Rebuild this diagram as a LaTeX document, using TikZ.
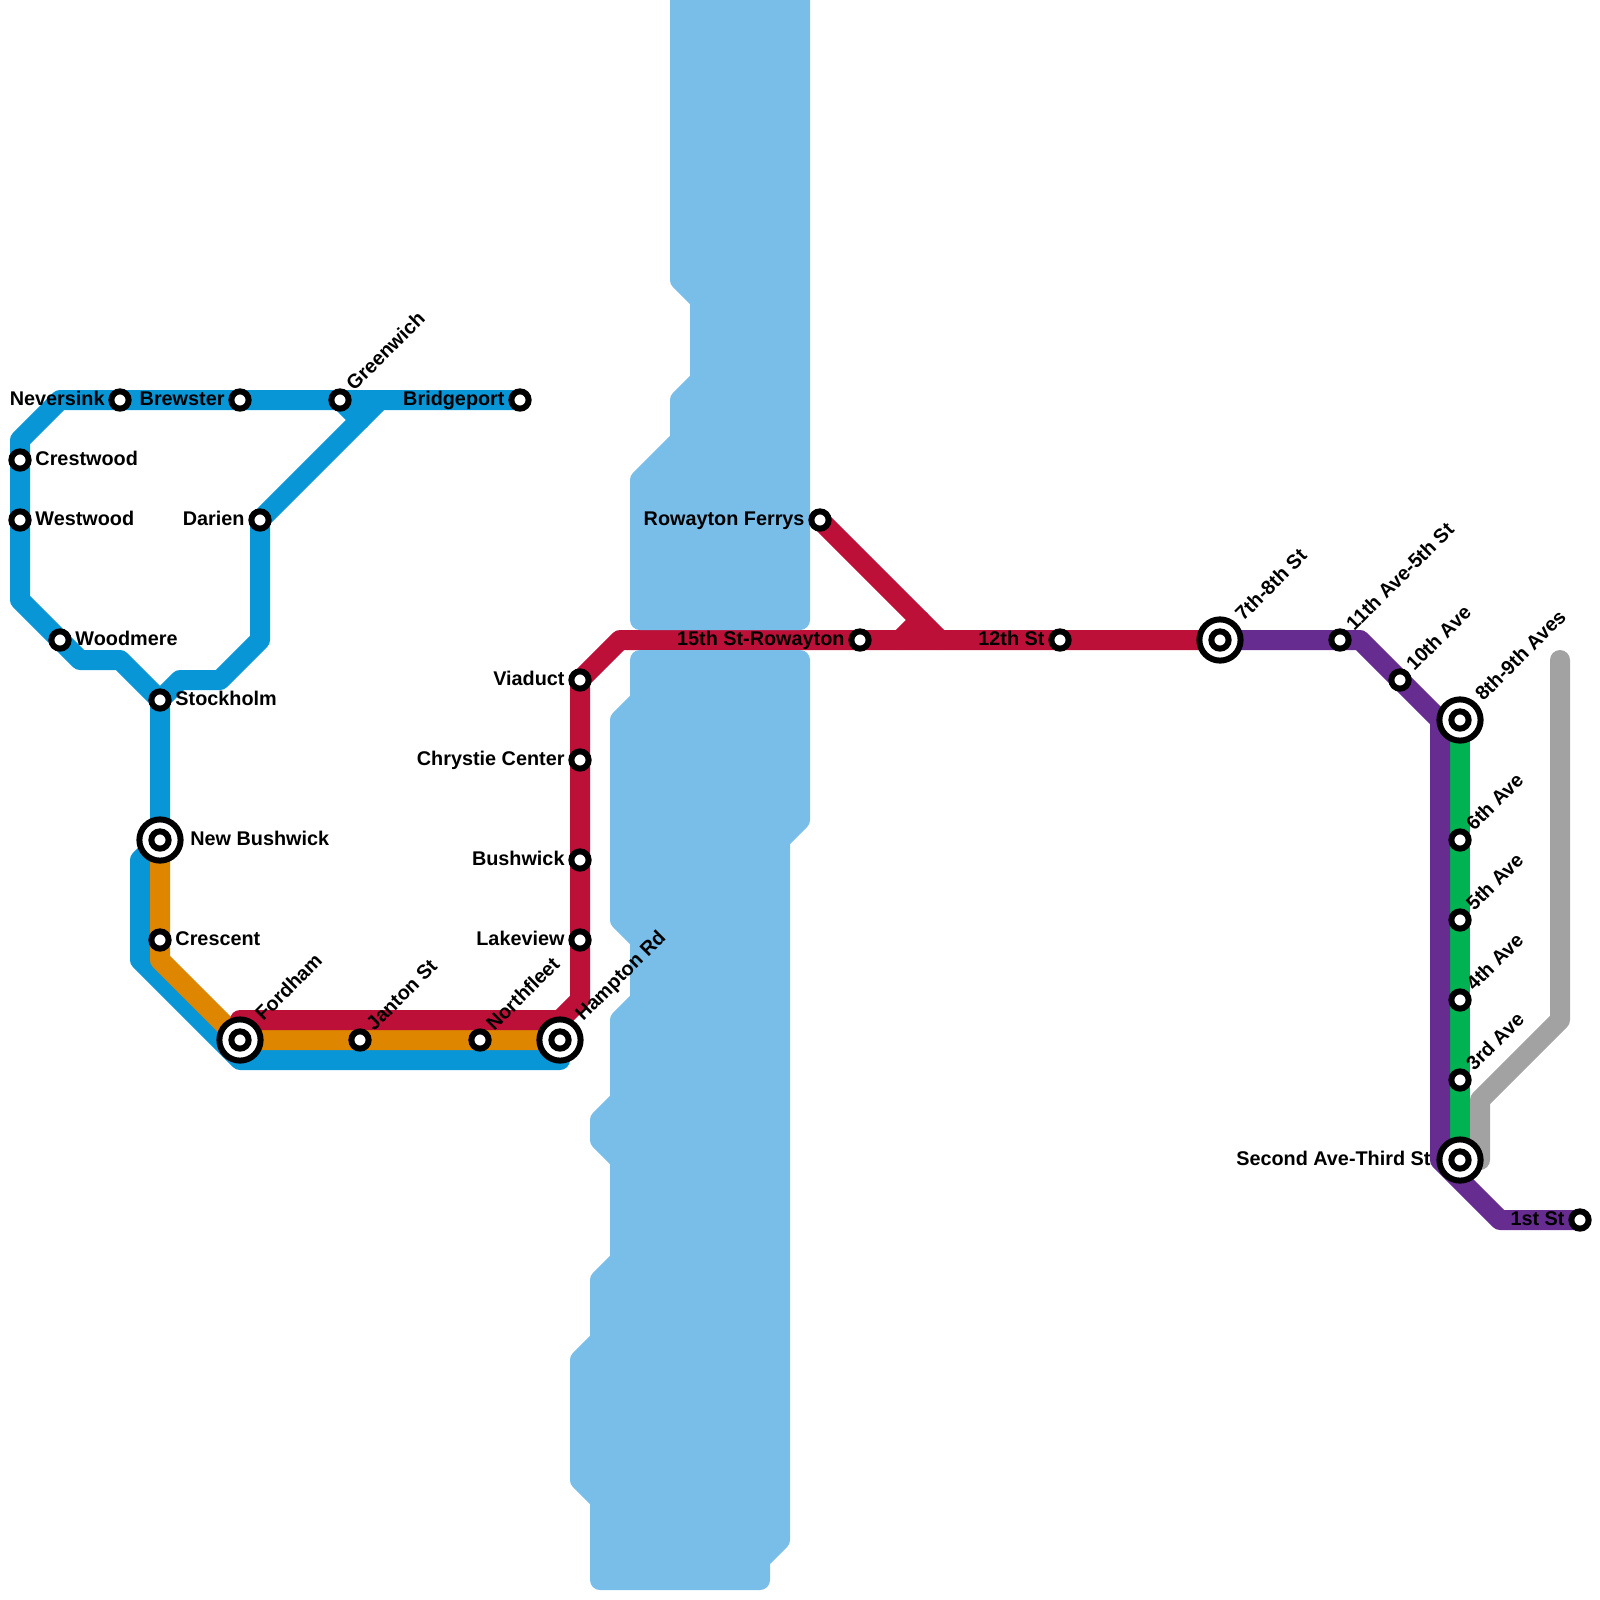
\documentclass[tikz,border=0pt]{standalone}
\usepackage{fontspec}
\setmainfont{Liberation Sans}
\usetikzlibrary{backgrounds}
\definecolor{waterblue}{HTML}{79BDE9}
\definecolor{lineblue}{HTML}{0896D7}
\definecolor{lineorange}{HTML}{DF8600}
\definecolor{linered}{HTML}{BD1038}
\definecolor{linepurple}{HTML}{662C90}
\definecolor{linegreen}{HTML}{00B251}
\definecolor{linegray}{HTML}{A2A2A2}
\tikzset{
  stn/.style = {circle, draw, fill = white, line width = .075cm, minimum size = .216cm, inner sep = 0},
  bigstn/.style = {circle, draw, fill = white, line width = .075cm, minimum size = .515cm, inner sep = 0},
  route/.style = {line width = .25cm, line join = round, line cap = round},
  txt/.style = {font = \fontsize{7.05}{8}\selectfont\bfseries, inner sep = 0, text height = 5.2pt, text depth = 1.5pt},
  rtxt/.style = {txt, anchor = west, xshift = 5.3pt},
  ltxt/.style = {txt, anchor = east, xshift = -5.3pt},
  dtxt/.style = {txt, xshift = 3.7pt, yshift = 4.1pt, rotate = 45, anchor = west},
  bigdtxt/.style = {txt, xshift = 6.9pt, yshift = 7.6pt, rotate = 45, anchor = west}
}
\begin{document}
\begin{tikzpicture}[x = .25cm, y = -.25cm]
  \useasboundingbox (0,0) rectangle (80,80);
  % water
  \draw [waterblue, fill = waterblue, line width = .25cm, line join = round]
    (34,0) -- (34,14) -- (35,15) -- (35,19) -- (34,20) -- (34,22) -- (32,24)
    -- (32,31) -- (40,31) -- (40,0) -- cycle;
  \draw [waterblue, fill = waterblue, line width = .25cm, line join = round]
    (32,33) -- (32,35) -- (31,36) -- (31,46) -- (32,47) -- (32,50) -- (31,51)
    -- (31,55) -- (30,56) -- (30,57) -- (31,58) -- (31,63) -- (30,64) -- (30,67)
    -- (29,68) -- (29,74) -- (30,75) -- (30,79) -- (38,79) -- (38,78) -- (39,77)
    -- (39,42) -- (40,41) -- (40,33) -- cycle;
  % stations
  \node [stn] (neversink) at (6,20) {};
  \node [stn] (brewster) at (12,20) {};
  \node [stn] (greenwich) at (17,20) {};
  \node [stn] (bridgeport) at (26,20) {};
  \node [stn] (crestwood) at (1,23) {};
  \node [stn] (westwood) at (1,26) {};
  \node [stn] (darien) at (13,26) {};
  \node [stn] (woodmere) at (3,32) {};
  \node [stn] (stockholm) at (8,35) {};
  \node [bigstn] (newbushwick) at (8,42) {};
  \node [stn] (newbushwickin) at (8,42) {};
  \node [stn] (crescent) at (8,47) {};
  \node [bigstn] (fordham) at (12,52) {};
  \node [stn] (fordhamin) at (12,52) {};
  \node [stn] (janton) at (18,52) {};
  \node [stn] (northfleet) at (24,52) {};
  \node [bigstn] (hampton) at (28,52) {};
  \node [stn] (hamptonin) at (28,52) {};
  \node [stn] (lakeview) at (29,47) {};
  \node [stn] (bushwick) at (29,43) {};
  \node [stn] (chrystie) at (29,38) {};
  \node [stn] (viaduct) at (29,34) {};
  \node [stn] (ferrys) at (41,26) {};
  \node [stn] (rowayton) at (43,32) {};
  \node [stn] (twelfth) at (53,32) {};
  \node [bigstn] (seventh) at (61,32) {};
  \node [stn] (seventhin) at (61,32) {};
  \node [stn] (eleventh) at (67,32) {};
  \node [stn] (tenth) at (70,34) {};
  \node [bigstn] (eighth) at (73,36) {};
  \node [stn] (eighthin) at (73,36) {};
  \node [stn] (sixth) at (73,42) {};
  \node [stn] (fifth) at (73,46) {};
  \node [stn] (fourth) at (73,50) {};
  \node [stn] (third) at (73,54) {};
  \node [bigstn] (second) at (73,58) {};
  \node [stn] (secondin) at (73,58) {};
  \node [stn] (first) at (79,61) {};
  % routes
  \begin{scope}[on background layer]
    \draw [route, linegray] (78,33) -- (78,51) -- (74,55) -- (74,58);
    \draw [route, lineblue] (bridgeport.center) -- (greenwich.center) -- (brewster.center)
      -- (neversink.center) -- (3,20) -- (1,22) -- (crestwood.center) -- (westwood.center)
      -- (1,30) -- (woodmere.center) -- (4,33) -- (6,33) -- (stockholm.center);
    \draw [route, lineblue] (stockholm.center) -- (9,34) -- (11,34) -- (13,32)
      -- (darien.center) -- (18,21) -- (19,20);
    \draw [route, lineblue] (greenwich.center) -- (18,21);
    \draw [route, lineblue] (stockholm.center) -- (newbushwick.center) -- (7,43) -- (7,48)
      -- (12,53) -- (28,53) -- (hampton.center);
    \draw [route, lineorange] (newbushwick.center) -- (crescent.center) -- (8,48)
      -- (fordham.center) -- (janton.center) -- (northfleet.center) -- (hampton.center);
    \draw [route, linered] (12,51) -- (28,51) -- (29,50) -- (lakeview.center)
      -- (bushwick.center) -- (chrystie.center) -- (viaduct.center) -- (31,32)
      -- (rowayton.center) -- (twelfth.center) -- (seventh.center);
    \draw [route, linered] (ferrys.center) -- (47,32);
    \draw [route, linered] (45,32) -- (46,31);
    \draw [route, linegreen] (eighth.center) -- (sixth.center) -- (fifth.center)
      -- (fourth.center) -- (third.center) -- (second.center);
    \draw [route, linepurple] (seventh.center) -- (eleventh.center) -- (68,32)
      -- (tenth.center) -- (72,36) -- (72,58) -- (75,61) -- (first.center);
  \end{scope}
  % labels
  \node [ltxt] (neversinktxt) at (neversink) {Neversink};
  \node [ltxt] (brewstertxt) at (brewster) {Brewster};
  \node [dtxt] (greenwichtxt) at (greenwich) {Greenwich};
  \node [ltxt] (bridgeporttxt) at (bridgeport) {Bridgeport};
  \node [rtxt] (crestwoodtxt) at (crestwood) {Crestwood};
  \node [rtxt] (westwoodtxt) at (westwood) {Westwood};
  \node [ltxt] (darientxt) at (darien) {Darien};
  \node [rtxt] (woodmeretxt) at (woodmere) {Woodmere};
  \node [rtxt] (stockholmtxt) at (stockholm) {Stockholm};
  \node [rtxt, xshift = 5.3pt] (newbushwicktxt) at (newbushwick) {New Bushwick};
  \node [rtxt] (crescenttxt) at (crescent) {Crescent};
  \node [bigdtxt] (fordhamtxt) at (fordham) {Fordham};
  \node [dtxt] (jantontxt) at (janton) {Janton St};
  \node [dtxt] (northfleettxt) at (northfleet) {Northfleet};
  \node [bigdtxt] (hamptontxt) at (hampton) {Hampton Rd};
  \node [ltxt] (lakeviewtxt) at (lakeview) {Lakeview};
  \node [ltxt] (bushwicktxt) at (bushwick) {Bushwick};
  \node [ltxt] (chrystietxt) at (chrystie) {Chrystie Center};
  \node [ltxt] (viaducttxt) at (viaduct) {Viaduct};
  \node [ltxt] (ferrystxt) at (ferrys) {Rowayton Ferrys};
  \node [ltxt] (rowaytontxt) at (rowayton) {15th St-Rowayton};
  \node [ltxt] (twelfthtxt) at (twelfth) {12th St};
  \node [bigdtxt] (seventhtxt) at (seventh) {7th-8th St};
  \node [dtxt] (eleventhtxt) at (eleventh) {11th Ave-5th St};
  \node [dtxt] (tenthtxt) at (tenth) {10th Ave};
  \node [bigdtxt] (eighthtxt) at (eighth) {8th-9th Aves};
  \node [dtxt] (sixthtxt) at (sixth) {6th Ave};
  \node [dtxt] (fifthtxt) at (fifth) {5th Ave};
  \node [dtxt] (fourthtxt) at (fourth) {4th Ave};
  \node [dtxt] (thirdtxt) at (third) {3rd Ave};
  \node [ltxt, xshift = -5pt] (secondtxt) at (second) {Second Ave-Third St};
  \node [ltxt] (firsttxt) at (first) {1st St};
\end{tikzpicture}
\end{document}
